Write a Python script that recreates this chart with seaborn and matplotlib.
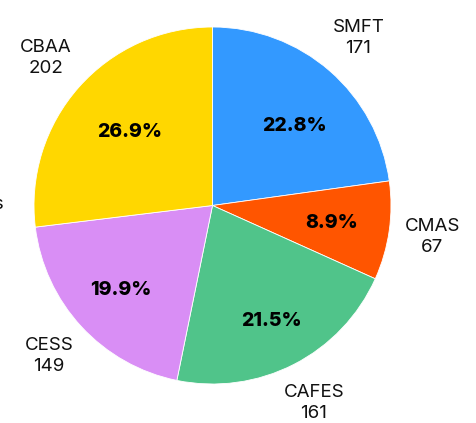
import numpy as np
import matplotlib
matplotlib.use("Agg")
import matplotlib.pyplot as plt
import seaborn as sns

colleges = ["SMFT", "CMAS", "CAFES", "CESS", "CBAA"]
counts = [171, 67, 161, 149, 202]
slice_colors = ["#3399FF", "#FF5500", "#50C48A", "#D98EF5", "#FFD700"]

sns.set_theme(style="white")
plt.rcParams["font.family"] = ["Inter", "DejaVu Sans"]

W, H = 477, 423
fig = plt.figure(figsize=(W / 100, H / 100), dpi=100)
cx, cy, R = 212.5, 205.5, 178.5
ax = fig.add_axes([(cx - R) / W, 1 - (cy + R) / H, 2 * R / W, 2 * R / H])

labels = [f"{c}\n{v}" for c, v in zip(colleges, counts)]
wedges, texts, autotexts = ax.pie(
    counts, labels=labels, colors=sns.color_palette(slice_colors),
    startangle=90, counterclock=False, autopct="%.1f%%",
    labeldistance=1.245, pctdistance=0.65,
    wedgeprops=dict(edgecolor="white", linewidth=0.6),
    textprops=dict(fontsize=13.5, color="#111111"))

# percentage label distance / angle shift per slice
pct_dist = [0.64, 0.675, 0.725, 0.70, 0.62]
pct_shift = [-5, 0, 0, 0, 0]
for w, t, d, s in zip(wedges, autotexts, pct_dist, pct_shift):
    ang = np.deg2rad((w.theta1 + w.theta2) / 2 + s)
    t.set_position((d * np.cos(ang), d * np.sin(ang)))
    t.set_fontweight("heavy")
    t.set_fontsize(14)
    t.set_color("black")
for t in texts:
    t.set_ha("center")
    t.set_va("center")
    t.set_linespacing(1.3)
    t.set_clip_on(False)

ax.set_xlim(-1, 1)
ax.set_ylim(-1, 1)
ax.set_aspect("auto")
ax.axis("off")

fig.text(4 / W, 1 - 204 / H, "Colleges", ha="right", va="center", fontsize=13.5, color="#111111")

fig.savefig("out.png", dpi=100)
